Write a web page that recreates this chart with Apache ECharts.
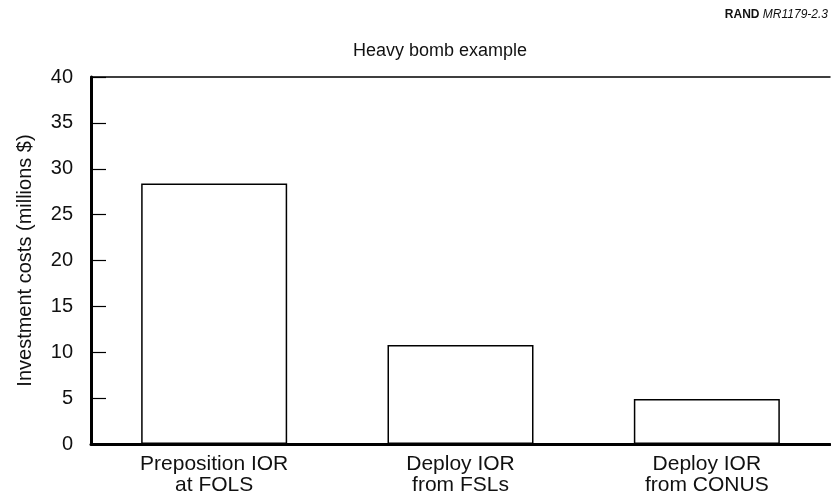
<!DOCTYPE html>
<html>
<head>
<meta charset="utf-8">
<script src="https://cdn.jsdelivr.net/npm/echarts@6/dist/echarts.min.js"></script>
<style>
  html, body { margin: 0; padding: 0; background: #fff; }
  #chart { width: 831px; height: 497px; }
</style>
</head>
<body>
<div id="chart"></div>
<script>
// data
let categories = ['Preposition IOR\nat FOLS', 'Deploy IOR\nfrom FSLs', 'Deploy IOR\nfrom CONUS'];
let costs = [28.4, 10.8, 4.9];

let font = 'Liberation Sans, Arial, sans-serif';

let option = {
    backgroundColor: '#fff',
    animation: false,
    title: {
        text: 'Heavy bomb example',
        left: 435,
        top: 37,
        textAlign: 'center',
        textStyle: { fontFamily: font, fontSize: 18, fontWeight: 'normal', color: '#111' }
    },
    graphic: [
        {
            type: 'text',
            right: 3,
            top: 9,
            style: {
                text: '{b|RAND} {i|MR1179-2.3}',
                rich: {
                    b: { fontFamily: font, fontSize: 12, fontWeight: 'bold', fill: '#111' },
                    i: { fontFamily: font, fontSize: 12, fontStyle: 'italic', fill: '#111' }
                }
            }
        }
    ],
    grid: { left: 91, right: 1, top: 77, bottom: 53 },
    xAxis: [
        {
            type: 'category',
            data: categories,
            axisLine: { lineStyle: { color: '#000', width: 3 } },
            axisTick: { show: false },
            axisLabel: {
                fontFamily: font, fontSize: 21, color: '#111',
                lineHeight: 21, margin: 10
            }
        },
        {
            type: 'category',
            position: 'top',
            data: categories,
            axisLine: { lineStyle: { color: '#000', width: 1.5 } },
            axisTick: { show: false },
            axisLabel: { show: false }
        }
    ],
    yAxis: {
        type: 'value',
        min: 0,
        max: 40,
        interval: 5,
        name: 'Investment costs (millions $)',
        nameLocation: 'middle',
        nameGap: 56,
        nameTextStyle: { fontFamily: font, fontSize: 20, color: '#111' },
        splitLine: { show: false },
        axisLine: { show: true, lineStyle: { color: '#000', width: 3 } },
        axisTick: { show: true, inside: true, length: 15, lineStyle: { color: '#000', width: 1.2 } },
        axisLabel: { fontFamily: font, fontSize: 20, color: '#111', margin: 18 }
    },
    series: [
        {
            type: 'bar',
            data: costs,
            barWidth: 146,
            itemStyle: { color: '#fff', borderColor: '#000', borderWidth: 1.5 }
        }
    ]
};

let myChart = echarts.init(document.getElementById('chart'));
myChart.setOption(option);
</script>
</body>
</html>
